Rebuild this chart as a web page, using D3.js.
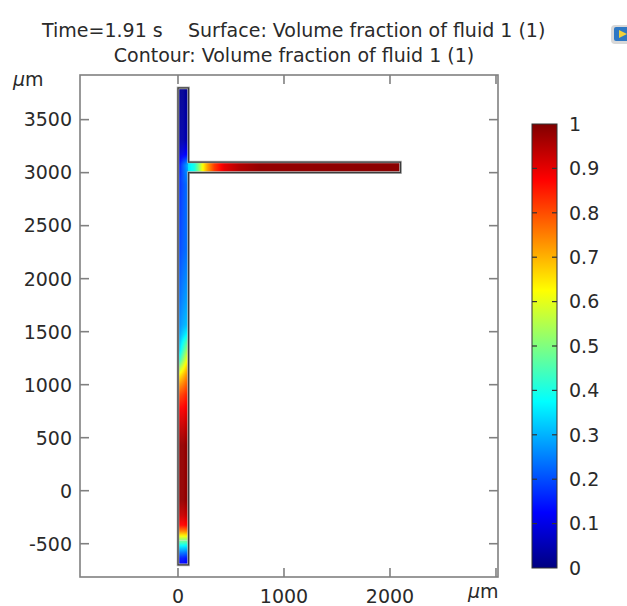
<!DOCTYPE html>
<html>
<head>
<meta charset="utf-8">
<script src="https://cdn.jsdelivr.net/npm/d3@7"></script>
<style>
  body { margin: 0; background: #fff; }
  text { font-family: "DejaVu Sans", sans-serif; fill: #2a2a2a; font-size: 19px; }
</style>
</head>
<body>
<svg id="chart" width="627" height="606"></svg>
<script>
// tick values
var xTicks = [0, 1000, 2000, 3000];
var xTickLabels = ["0", "1000", "2000", ""];
var yTicks = [-500, 0, 500, 1000, 1500, 2000, 2500, 3000, 3500];
var cbTicks = [0, 0.1, 0.2, 0.3, 0.4, 0.5, 0.6, 0.7, 0.8, 0.9, 1];
var cbTickLabels = ["0", "0.1", "0.2", "0.3", "0.4", "0.5", "0.6", "0.7", "0.8", "0.9", "1"];

// channel geometry (µm)
var vertChannel = [0, 100, -700, 3800];     // x0, x1, y0, y1
var horizChannel = [100, 2100, 3000, 3100];

// volume fraction along the left wall of the vertical channel [y µm, value]
var leftWall = [
  [-700, 0.12], [-636, 0.15], [-579, 0.25], [-523, 0.36], [-475, 0.48], [-428, 0.62],
  [-381, 0.75], [-325, 0.87], [-230, 0.93], [-89, 0.98], [430, 0.98], [572, 0.94],
  [760, 0.88], [902, 0.80], [996, 0.72], [1091, 0.62], [1166, 0.50], [1232, 0.38],
  [1326, 0.30], [1515, 0.26], [1798, 0.22], [2270, 0.18], [2930, 0.15], [3119, 0.10],
  [3213, 0.06], [3307, 0.04], [3800, 0.02]
];
// volume fraction along the right wall
var rightWall = [
  [-700, 0.12], [-636, 0.15], [-579, 0.25], [-523, 0.36], [-475, 0.48], [-428, 0.62],
  [-381, 0.75], [-325, 0.87], [-230, 0.93], [-89, 0.98], [430, 0.98], [666, 0.92],
  [902, 0.85], [1043, 0.78], [1185, 0.70], [1279, 0.62], [1392, 0.50], [1468, 0.40],
  [1562, 0.33], [1798, 0.30], [2270, 0.25], [2883, 0.25], [2977, 0.28], [3072, 0.32],
  [3166, 0.15], [3307, 0.05], [3800, 0.02]
];
// volume fraction along the horizontal channel [x µm, value]
var horizProfile = [
  [100, 0.35], [160, 0.40], [198, 0.50], [236, 0.62], [283, 0.72], [349, 0.82],
  [443, 0.90], [585, 0.95], [774, 0.98], [2100, 0.99]
];

var svg = d3.select("#chart");
var x = d3.scaleLinear().domain([-924.5, 3019]).range([80, 498]);
var y = d3.scaleLinear().domain([-814, 3921]).range([577, 75]);
var cb = d3.scaleLinear().domain([0, 1]).range([568, 124]);

var jet = d3.scaleLinear()
  .domain([0, 0.125, 0.375, 0.625, 0.875, 1])
  .range(["#000080", "#0000ff", "#00ffff", "#ffff00", "#ff0000", "#800000"])
  .clamp(true);

function interp(profile, p){
  for (var i = 1; i < profile.length; i++){
    if (p <= profile[i][0]){
      var a = profile[i-1], b = profile[i];
      var t = (p - a[0]) / (b[0] - a[0]);
      return a[1] + t * (b[1] - a[1]);
    }
  }
  return profile[profile.length-1][1];
}

function crossings(profile, level){
  var out = [];
  for (var i = 1; i < profile.length; i++){
    var a = profile[i-1], b = profile[i];
    if ((a[1] - level) * (b[1] - level) < 0){
      out.push(a[0] + (level - a[1]) / (b[1] - a[1]) * (b[0] - a[0]));
    }
  }
  return out;
}

var defs = svg.append("defs");

// title
var title = svg.append("text").attr("y", 37);
title.append("tspan").attr("x", 42).text("Time=1.91 s");
title.append("tspan").attr("x", 188).text("Surface: Volume fraction of fluid 1 (1)");
svg.append("text").attr("x", 294).attr("y", 62).attr("text-anchor", "middle")
  .text("Contour: Volume fraction of fluid 1 (1)");

// vertical channel, drawn as thin columns with vertical gradients
var nCols = 10;
var cols = d3.range(nCols);
var vy0 = vertChannel[2], vy1 = vertChannel[3];
var ySamples = d3.range(vy0, vy1 + 1, 15);
cols.forEach(function(c){
  var t = (c + 0.5) / nCols;
  var g = defs.append("linearGradient").attr("id", "vcol" + c)
    .attr("x1", 0).attr("y1", 1).attr("x2", 0).attr("y2", 0);
  g.selectAll("stop").data(ySamples).enter().append("stop")
    .attr("offset", function(d){ return (d - vy0) / (vy1 - vy0); })
    .attr("stop-color", function(d){
      return jet((1 - t) * interp(leftWall, d) + t * interp(rightWall, d));
    });
});
var colW = (vertChannel[1] - vertChannel[0]) / nCols;
svg.append("g").selectAll("rect").data(cols).enter().append("rect")
  .attr("x", function(c){ return x(vertChannel[0] + c * colW); })
  .attr("y", y(vy1))
  .attr("width", function(c){ return x(colW) - x(0) + (c < nCols - 1 ? 0.6 : 0); })
  .attr("height", y(vy0) - y(vy1))
  .attr("fill", function(c){ return "url(#vcol" + c + ")"; });

// horizontal channel
var hg = defs.append("linearGradient").attr("id", "hgrad")
  .attr("x1", 0).attr("y1", 0).attr("x2", 1).attr("y2", 0);
var xSamples = d3.range(horizChannel[0], horizChannel[1] + 1, 10);
hg.selectAll("stop").data(xSamples).enter().append("stop")
  .attr("offset", function(d){ return (d - horizChannel[0]) / (horizChannel[1] - horizChannel[0]); })
  .attr("stop-color", function(d){ return jet(interp(horizProfile, d)); });
svg.append("rect")
  .attr("x", x(horizChannel[0]) - 0.5).attr("y", y(horizChannel[3]))
  .attr("width", x(horizChannel[1]) - x(horizChannel[0]) + 0.5)
  .attr("height", y(horizChannel[2]) - y(horizChannel[3]))
  .attr("fill", "url(#hgrad)");

// contour at 0.5
var cl = crossings(leftWall, 0.5), cr = crossings(rightWall, 0.5);
var contour = svg.append("g").attr("stroke", "#e0e0e0").attr("stroke-width", 0.8).attr("opacity", 0.7);
cl.forEach(function(d, i){
  contour.append("line")
    .attr("x1", x(vertChannel[0])).attr("y1", y(d))
    .attr("x2", x(vertChannel[1])).attr("y2", y(cr[i]));
});
crossings(horizProfile, 0.5).forEach(function(d){
  contour.append("line")
    .attr("x1", x(d)).attr("y1", y(horizChannel[2]))
    .attr("x2", x(d) + 2).attr("y2", y(horizChannel[3]));
});

// outline of the T geometry
var outline = d3.path();
outline.moveTo(x(vertChannel[0]), y(vertChannel[2]));
outline.lineTo(x(vertChannel[0]), y(vertChannel[3]));
outline.lineTo(x(vertChannel[1]), y(vertChannel[3]));
outline.lineTo(x(vertChannel[1]), y(horizChannel[3]));
outline.lineTo(x(horizChannel[1]), y(horizChannel[3]));
outline.lineTo(x(horizChannel[1]), y(horizChannel[2]));
outline.lineTo(x(vertChannel[1]), y(horizChannel[2]));
outline.lineTo(x(vertChannel[1]), y(vertChannel[2]));
outline.closePath();
svg.append("path").attr("d", outline.toString()).attr("fill", "none")
  .attr("stroke", "#b8b8b8").attr("stroke-width", 2.6);
svg.append("path").attr("d", outline.toString()).attr("fill", "none")
  .attr("stroke", "#3c3c3c").attr("stroke-width", 1.2);

// axes frame
var frame = svg.append("g").attr("stroke", "#808080").attr("stroke-width", 1.6).attr("fill", "none");
frame.append("rect").attr("x", 80).attr("y", 75).attr("width", 418).attr("height", 502);
xTicks.forEach(function(d){
  frame.append("line").attr("x1", x(d)).attr("x2", x(d)).attr("y1", 577).attr("y2", 568);
  frame.append("line").attr("x1", x(d)).attr("x2", x(d)).attr("y1", 75).attr("y2", 84);
});
yTicks.forEach(function(d){
  frame.append("line").attr("y1", y(d)).attr("y2", y(d)).attr("x1", 80).attr("x2", 89);
  frame.append("line").attr("y1", y(d)).attr("y2", y(d)).attr("x1", 498).attr("x2", 489);
});

svg.append("g").selectAll("text").data(yTicks).enter().append("text")
  .attr("x", 72).attr("y", function(d){ return y(d); }).attr("dy", "0.36em")
  .attr("text-anchor", "end")
  .text(function(d){ return d; });
svg.append("g").selectAll("text").data(xTicks).enter().append("text")
  .attr("x", function(d){ return x(d); }).attr("y", 603)
  .attr("text-anchor", "middle")
  .text(function(d, i){ return xTickLabels[i]; });

// unit labels
var uy = svg.append("text").attr("x", 13).attr("y", 86);
uy.append("tspan").style("font-style", "italic").text("\u03bc");
uy.append("tspan").text("m");
var ux = svg.append("text").attr("x", 468).attr("y", 598);
ux.append("tspan").style("font-style", "italic").text("\u03bc");
ux.append("tspan").text("m");

// colour bar
var cg = defs.append("linearGradient").attr("id", "cbgrad")
  .attr("x1", 0).attr("y1", 1).attr("x2", 0).attr("y2", 0);
cg.selectAll("stop").data(jet.domain()).enter().append("stop")
  .attr("offset", function(d){ return d; })
  .attr("stop-color", function(d){ return jet(d); });
svg.append("rect").attr("x", 532).attr("y", cb(1)).attr("width", 25).attr("height", cb(0) - cb(1))
  .attr("fill", "url(#cbgrad)").attr("stroke", "#333").attr("stroke-width", 1);
var cbt = svg.append("g").attr("stroke", "#333").attr("stroke-width", 1.2);
cbTicks.slice(1, -1).forEach(function(d){
  cbt.append("line").attr("x1", 532).attr("x2", 537).attr("y1", cb(d)).attr("y2", cb(d));
  cbt.append("line").attr("x1", 557).attr("x2", 552).attr("y1", cb(d)).attr("y2", cb(d));
});
svg.append("g").selectAll("text").data(cbTicks).enter().append("text")
  .attr("x", 569).attr("y", function(d){ return cb(d); }).attr("dy", "0.36em")
  .text(function(d, i){ return cbTickLabels[i]; });

// small window icon at top right
var icon = svg.append("g");
icon.append("rect").attr("x", 611).attr("y", 25).attr("width", 20).attr("height", 19).attr("rx", 4)
  .attr("fill", "#d8d8d8");
icon.append("rect").attr("x", 614).attr("y", 27).attr("width", 16).attr("height", 14).attr("rx", 2)
  .attr("fill", "#2f78c4");
icon.append("path").attr("d", "M619,30 L627,34 L619,38 Z").attr("fill", "#f2d23a");
</script>
</body>
</html>
